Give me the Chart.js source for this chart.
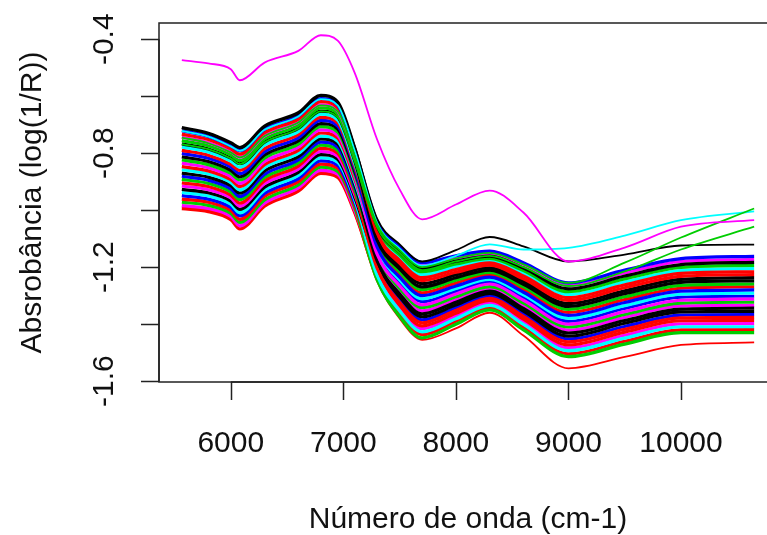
<!DOCTYPE html>
<html>
<head>
<meta charset="utf-8">
<script src="https://cdn.jsdelivr.net/npm/chart.js@4.4.0/dist/chart.umd.min.js"></script>
<style>
  html, body { margin: 0; padding: 0; background: #fff; }
  #wrap { width: 767px; height: 535px; overflow: hidden; position: relative; }
  canvas { display: block; }
</style>
</head>
<body>
<div id="wrap"><canvas id="chart" width="800" height="535"></canvas></div>
<script>
// wavenumbers (cm-1) where the spectra are sampled
const waveNumbers = [5565, 5800, 6000, 6080, 6300, 6600, 6800, 6950, 7100, 7300, 7500, 7700, 8000, 8300, 8600, 9000, 9500, 10000, 10650];

// axis ticks
const xTicks = [6000, 7000, 8000, 9000, 10000];
const yTicks = [-0.4, -0.6, -0.8, -1.0, -1.2, -1.4, -1.6];
const yTickLabels = ['-0.4', '-0.8', '-1.2', '-1.6'];
const yLabelValues = [-0.4, -0.8, -1.2, -1.6];

// main bundle of spectra, top to bottom
const spec01 = [-0.710, -0.730, -0.763, -0.780, -0.705, -0.658, -0.597, -0.620, -0.780, -1.055, -1.147, -1.205, -1.179, -1.161, -1.203, -1.276, -1.231, -1.191, -1.183];
const spec02 = [-0.721, -0.741, -0.774, -0.791, -0.716, -0.669, -0.608, -0.631, -0.789, -1.039, -1.127, -1.184, -1.160, -1.144, -1.184, -1.255, -1.210, -1.170, -1.162];
const spec03 = [-0.733, -0.752, -0.785, -0.803, -0.728, -0.680, -0.619, -0.641, -0.798, -1.080, -1.176, -1.237, -1.208, -1.185, -1.231, -1.307, -1.262, -1.222, -1.216];
const spec04 = [-0.744, -0.763, -0.795, -0.814, -0.739, -0.691, -0.630, -0.652, -0.807, -1.047, -1.137, -1.195, -1.170, -1.152, -1.193, -1.265, -1.220, -1.180, -1.173];
const spec05 = [-0.756, -0.774, -0.806, -0.826, -0.750, -0.702, -0.641, -0.662, -0.817, -1.064, -1.157, -1.216, -1.189, -1.169, -1.212, -1.286, -1.241, -1.201, -1.194];
const spec06 = [-0.767, -0.785, -0.817, -0.837, -0.761, -0.713, -0.652, -0.673, -0.826, -1.105, -1.206, -1.269, -1.237, -1.210, -1.260, -1.338, -1.293, -1.253, -1.248];
const spec07 = [-0.778, -0.796, -0.828, -0.849, -0.772, -0.724, -0.663, -0.684, -0.835, -1.072, -1.166, -1.226, -1.198, -1.177, -1.222, -1.296, -1.252, -1.212, -1.205];
const spec08 = [-0.790, -0.807, -0.839, -0.860, -0.784, -0.735, -0.674, -0.694, -0.844, -1.088, -1.186, -1.247, -1.218, -1.193, -1.241, -1.317, -1.272, -1.232, -1.226];
const spec09 = [-0.801, -0.818, -0.849, -0.872, -0.795, -0.746, -0.685, -0.705, -0.853, -1.129, -1.235, -1.300, -1.266, -1.235, -1.288, -1.369, -1.324, -1.284, -1.280];
const spec10 = [-0.813, -0.829, -0.860, -0.883, -0.806, -0.757, -0.696, -0.715, -0.862, -1.096, -1.196, -1.258, -1.227, -1.202, -1.250, -1.328, -1.283, -1.243, -1.237];
const spec11 = [-0.824, -0.840, -0.871, -0.894, -0.817, -0.768, -0.707, -0.726, -0.871, -1.113, -1.216, -1.279, -1.246, -1.218, -1.269, -1.348, -1.304, -1.264, -1.259];
const spec12 = [-0.835, -0.851, -0.882, -0.906, -0.829, -0.779, -0.718, -0.737, -0.880, -1.154, -1.265, -1.332, -1.294, -1.259, -1.316, -1.400, -1.356, -1.316, -1.312];
const spec13 = [-0.847, -0.862, -0.893, -0.917, -0.840, -0.790, -0.729, -0.747, -0.889, -1.121, -1.225, -1.290, -1.256, -1.226, -1.278, -1.359, -1.314, -1.274, -1.269];
const spec14 = [-0.858, -0.873, -0.903, -0.929, -0.851, -0.801, -0.740, -0.758, -0.899, -1.137, -1.245, -1.311, -1.275, -1.243, -1.297, -1.379, -1.335, -1.295, -1.291];
const spec15 = [-0.870, -0.884, -0.914, -0.940, -0.862, -0.812, -0.750, -0.768, -0.908, -1.178, -1.294, -1.364, -1.323, -1.284, -1.345, -1.431, -1.387, -1.347, -1.344];
const spec16 = [-0.881, -0.895, -0.925, -0.952, -0.874, -0.823, -0.761, -0.779, -0.917, -1.146, -1.255, -1.321, -1.285, -1.251, -1.307, -1.390, -1.345, -1.305, -1.302];
const spec17 = [-0.892, -0.906, -0.936, -0.963, -0.885, -0.834, -0.772, -0.790, -0.926, -1.162, -1.275, -1.342, -1.304, -1.268, -1.326, -1.410, -1.366, -1.326, -1.323];
const spec18 = [-0.904, -0.917, -0.947, -0.975, -0.896, -0.845, -0.783, -0.800, -0.935, -1.203, -1.324, -1.395, -1.352, -1.309, -1.373, -1.462, -1.418, -1.378, -1.376];
const spec19 = [-0.915, -0.928, -0.957, -0.986, -0.907, -0.856, -0.794, -0.811, -0.944, -1.170, -1.284, -1.353, -1.314, -1.276, -1.335, -1.421, -1.376, -1.336, -1.334];
const spec20 = [-0.927, -0.939, -0.968, -0.997, -0.919, -0.867, -0.805, -0.821, -0.953, -1.187, -1.304, -1.374, -1.333, -1.292, -1.354, -1.442, -1.397, -1.357, -1.355];
const spec21 = [-0.938, -0.950, -0.979, -1.009, -0.930, -0.878, -0.816, -0.832, -0.962, -1.228, -1.353, -1.427, -1.381, -1.334, -1.401, -1.493, -1.449, -1.409, -1.409];
const spec22 = [-0.949, -0.961, -0.990, -1.020, -0.941, -0.889, -0.827, -0.843, -0.972, -1.195, -1.314, -1.385, -1.342, -1.301, -1.363, -1.452, -1.408, -1.368, -1.366];
const spec23 = [-0.961, -0.972, -1.001, -1.032, -0.952, -0.900, -0.838, -0.853, -0.981, -1.211, -1.334, -1.406, -1.362, -1.317, -1.382, -1.473, -1.428, -1.388, -1.387];
const spec24 = [-0.972, -0.983, -1.011, -1.043, -0.964, -0.911, -0.849, -0.864, -0.990, -1.244, -1.373, -1.448, -1.400, -1.350, -1.420, -1.514, -1.470, -1.430, -1.430];
const spec25 = [-0.984, -0.994, -1.022, -1.055, -0.975, -0.922, -0.860, -0.874, -0.999, -1.219, -1.344, -1.416, -1.371, -1.325, -1.392, -1.483, -1.439, -1.399, -1.398];
const spec26 = [-0.995, -1.005, -1.033, -1.066, -0.986, -0.933, -0.871, -0.885, -1.008, -1.236, -1.363, -1.437, -1.390, -1.342, -1.411, -1.504, -1.460, -1.420, -1.419];

// the odd ones out
const specMagenta = [-0.473, -0.485, -0.505, -0.544, -0.482, -0.441, -0.386, -0.405, -0.517, -0.752, -0.927, -1.032, -0.980, -0.931, -1.008, -1.180, -1.131, -1.058, -1.035];
const specBlackTop = [-0.712, -0.732, -0.765, -0.782, -0.707, -0.660, -0.599, -0.622, -0.775, -1.030, -1.120, -1.180, -1.140, -1.094, -1.127, -1.180, -1.156, -1.124, -1.121];
const specCyanTop = [-0.722, -0.742, -0.776, -0.792, -0.718, -0.671, -0.610, -0.632, -0.790, -1.045, -1.135, -1.195, -1.160, -1.120, -1.138, -1.132, -1.089, -1.035, -1.004];
const specGreenA = [-0.745, -0.765, -0.797, -0.815, -0.740, -0.692, -0.632, -0.653, -0.808, -1.050, -1.140, -1.200, -1.170, -1.150, -1.190, -1.255, -1.184, -1.096, -0.994];
const specGreenB = [-0.768, -0.786, -0.818, -0.838, -0.762, -0.714, -0.653, -0.674, -0.827, -1.060, -1.150, -1.210, -1.180, -1.160, -1.200, -1.266, -1.215, -1.138, -1.058];
const specRedLow = [-0.990, -1.000, -1.030, -1.065, -0.985, -0.930, -0.868, -0.882, -1.010, -1.250, -1.380, -1.455, -1.415, -1.360, -1.440, -1.555, -1.515, -1.473, -1.464];

const bundle = [spec01, spec02, spec03, spec04, spec05, spec06, spec07, spec08, spec09, spec10, spec11, spec12, spec13,
  spec14, spec15, spec16, spec17, spec18, spec19, spec20, spec21, spec22, spec23, spec24, spec25, spec26];

// R default palette used by matplot, and which colour each bundle line got
const palette = ['#000000', '#FF0000', '#00CD00', '#0000FF', '#00FFFF', '#FF00FF'];
const bundleColors = [0, 3, 1, 5, 2, 0, 4, 1, 3, 0, 2, 5, 1, 4, 0, 3, 2, 1, 5, 0, 4, 3, 1, 2, 5, 1];

function toPoints(vals) {
  return vals.map((v, i) => ({ x: waveNumbers[i], y: v }));
}

const datasets = [];
datasets.push({ data: toPoints(specMagenta), borderColor: '#FF00FF', borderWidth: 1.8 });
datasets.push({ data: toPoints(specGreenA), borderColor: '#00CD00', borderWidth: 1.8 });
datasets.push({ data: toPoints(specGreenB), borderColor: '#00CD00', borderWidth: 1.8 });
datasets.push({ data: toPoints(specCyanTop), borderColor: '#00FFFF', borderWidth: 1.8 });
datasets.push({ data: toPoints(specBlackTop), borderColor: '#000000', borderWidth: 1.8 });
bundle.forEach((s, i) => {
  datasets.push({ data: toPoints(s), borderColor: palette[bundleColors[i]], borderWidth: 3.2 });
});
datasets.push({ data: toPoints(specRedLow), borderColor: '#FF0000', borderWidth: 1.8 });

const FONT = '30px "Liberation Sans", Arial, sans-serif';

// R style box, axes and labels
const rAxes = {
  id: 'rAxes',
  afterDraw(chart) {
    const { ctx, chartArea: a } = chart;
    const xs = chart.scales.x, ys = chart.scales.y;
    ctx.save();
    ctx.strokeStyle = '#222';
    ctx.lineWidth = 1.5;
    ctx.strokeRect(a.left, a.top, a.right - a.left, a.bottom - a.top);

    ctx.fillStyle = '#111';
    ctx.font = FONT;

    // x axis
    ctx.beginPath();
    ctx.moveTo(xs.getPixelForValue(xTicks[0]), a.bottom);
    ctx.lineTo(xs.getPixelForValue(xTicks[xTicks.length - 1]), a.bottom);
    xTicks.forEach(t => {
      const px = Math.round(xs.getPixelForValue(t)) + 0.5;
      ctx.moveTo(px, a.bottom);
      ctx.lineTo(px, a.bottom + 18);
    });
    ctx.stroke();
    ctx.textAlign = 'center';
    ctx.textBaseline = 'alphabetic';
    xTicks.forEach(t => {
      ctx.fillText(String(t), xs.getPixelForValue(t), 452);
    });
    ctx.fillText('Número de onda (cm-1)', (a.left + a.right) / 2, 528);

    // y axis
    ctx.beginPath();
    ctx.moveTo(a.left, ys.getPixelForValue(yTicks[0]));
    ctx.lineTo(a.left, ys.getPixelForValue(yTicks[yTicks.length - 1]));
    yTicks.forEach(t => {
      const py = Math.round(ys.getPixelForValue(t)) + 0.5;
      ctx.moveTo(a.left, py);
      ctx.lineTo(a.left - 18, py);
    });
    ctx.stroke();
    yTickLabels.forEach((lab, i) => {
      ctx.save();
      ctx.translate(113, ys.getPixelForValue(yLabelValues[i]));
      ctx.rotate(-Math.PI / 2);
      ctx.textAlign = 'center';
      ctx.fillText(lab, 0, 0);
      ctx.restore();
    });
    ctx.save();
    ctx.translate(41, (a.top + a.bottom) / 2);
    ctx.rotate(-Math.PI / 2);
    ctx.textAlign = 'center';
    ctx.fillText('Absrobância (log(1/R))', 0, 0);
    ctx.restore();

    ctx.restore();
  }
};

new Chart(document.getElementById('chart').getContext('2d'), {
  type: 'line',
  data: { datasets: datasets },
  options: {
    responsive: false,
    devicePixelRatio: 1,
    animation: false,
    layout: { padding: { left: 159, top: 23, right: 23, bottom: 153 } },
    elements: {
      point: { radius: 0 },
      line: { cubicInterpolationMode: 'monotone', borderCapStyle: 'butt' }
    },
    scales: {
      x: { type: 'linear', min: 5362, max: 10853, display: false },
      y: { type: 'linear', min: -1.603, max: -0.343, display: false }
    },
    plugins: {
      legend: { display: false },
      tooltip: { enabled: false }
    }
  },
  plugins: [rAxes]
});
</script>
</body>
</html>
